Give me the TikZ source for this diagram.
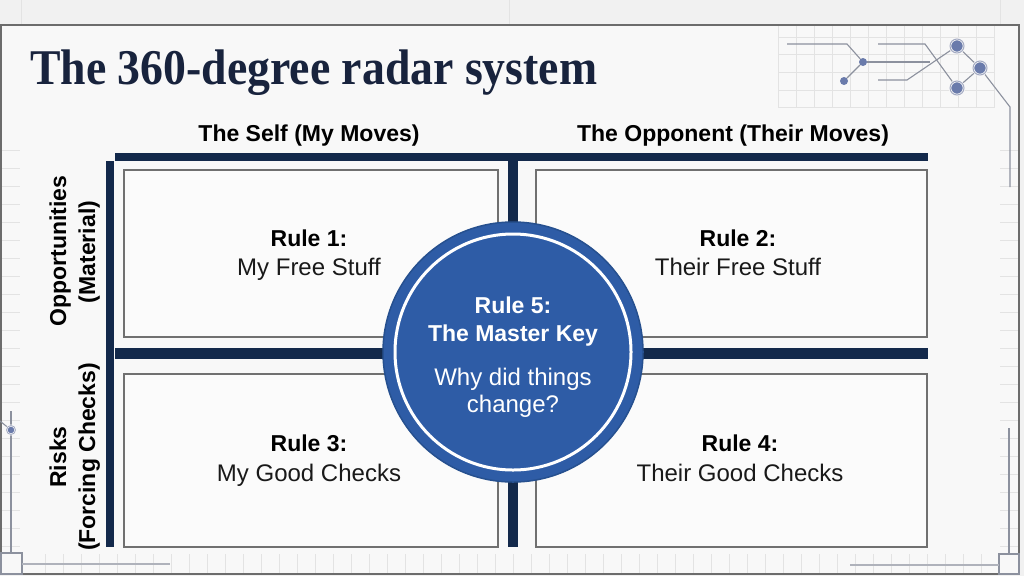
\documentclass[tikz,border=0pt]{standalone}
\usepackage{fontspec}
\setmainfont{Liberation Sans}
\newfontfamily\titlefont{Liberation Serif}
\definecolor{navy}{HTML}{13294B}
\definecolor{titlecol}{HTML}{18233D}
\definecolor{bluefill}{HTML}{2E5CA6}
\definecolor{bluerim}{HTML}{26508F}
\definecolor{bgout}{HTML}{F1F1F1}
\definecolor{bgin}{HTML}{F8F8F8}
\definecolor{cellfill}{HTML}{FBFBFB}
\definecolor{cellline}{HTML}{707070}
\definecolor{faint}{HTML}{E3E3E3}
\definecolor{wire}{HTML}{8C919E}
\definecolor{dotcol}{HTML}{6A7BAB}
\definecolor{ringcol}{HTML}{A3AAC2}
\tikzset{
  bar/.style={fill=navy, draw=none},
  cellbox/.style={fill=cellfill, draw=cellline, line width=1.2pt},
  hdr/.style={font=\fontsize{23}{28}\selectfont\bfseries, text=black, inner sep=0pt},
  rulehd/.style={font=\fontsize{23}{28}\selectfont\bfseries, text=black, inner sep=0pt, anchor=base},
  ruletx/.style={font=\fontsize{24}{28}\selectfont, text=black!90, inner sep=0pt, anchor=base},
  sidelab/.style={font=\fontsize{23}{28}\selectfont\bfseries, text=black, inner sep=0pt, anchor=base, rotate=90},
  ctitle/.style={font=\fontsize{23}{28}\selectfont\bfseries, text=white, inner sep=0pt, anchor=base},
  ctext/.style={font=\fontsize{24}{28}\selectfont, text=white, inner sep=0pt, anchor=base},
  gridln/.style={draw=faint, line width=0.8pt},
  wireln/.style={draw=wire, line width=1.1pt},
  dotnode/.style={circle, fill=dotcol, draw=none, minimum size=8pt, inner sep=0pt},
  ringnode/.style={circle, fill=dotcol, draw=bgin, line width=2.5pt, minimum size=14pt, inner sep=0pt, postaction={draw=ringcol, line width=1pt}},
  smallring/.style={circle, fill=dotcol, draw=bgin, line width=2pt, minimum size=9pt, inner sep=0pt, postaction={draw=ringcol, line width=0.8pt}},
}
\begin{document}
\begin{tikzpicture}[x=1pt,y=-1pt]
\useasboundingbox (0,0) rectangle (1024,576);
% background
\fill[bgout] (0,0) rectangle (1024,576);
\foreach \x in {21,509,1000} \draw[gridln] (\x,0) -- (\x,25);
\fill[bgin] (1,25) rectangle (1019,574);
% margin ticks
\foreach \y in {150,168,...,550} {\draw[gridln] (1,\y) -- (20,\y); \draw[gridln] (1000,\y) -- (1019,\y);}
\foreach \x in {45,63,...,1000} \draw[gridln] (\x,554) -- (\x,573);
% top-right grid
\foreach \x in {778,796,...,995} \draw[gridln] (\x,25) -- (\x,107);
\foreach \y in {37,54,72,90,107} \draw[gridln] (778,\y) -- (995,\y);
% panel border
\draw[draw=gray!85!black, line width=1.3pt] (1,25) rectangle (1019,574);
% corner squares & circuit lines
\draw[wireln] (1,553) rectangle (22,574);
\draw[wireln] (999,554) rectangle (1019,574);
\coordinate (bl1) at (22,564); \coordinate (bl2) at (170,564);
\draw[wireln, draw=wire!70] (bl1) -- (bl2);
\coordinate (br1) at (999,565); \coordinate (br2) at (850,565);
\draw[wireln, draw=wire!70] (br1) -- (br2);
\coordinate (lv1) at (11,411); \coordinate (lv2) at (11,553);
\draw[wireln] (lv1) -- (lv2);
\coordinate (lnw) at (0,421);
\draw[wireln] (lnw) -- (11,430);
\node[smallring] (ln) at (11,430) {};
\coordinate (rv1) at (1009,428); \coordinate (rv2) at (1009,554);
\draw[wireln] (rv1) -- (rv2);
% top-right circuit
\node[dotnode] (nA) at (844,81) {};
\node[dotnode] (nB) at (863,62) {};
\node[ringnode] (nC) at (957,46) {};
\node[ringnode] (nE) at (980,68) {};
\node[ringnode] (nD) at (957,88) {};
\coordinate (w1) at (787,44); \coordinate (w2) at (847,44);
\coordinate (w3) at (930,62);
\coordinate (w4) at (878,44); \coordinate (w5) at (925,44);
\coordinate (w6) at (878,80); \coordinate (w7) at (907,80);
\coordinate (w8) at (1010,107); \coordinate (w9) at (1010,187);
\draw[wireln] (nA) -- (nB);
\draw[wireln] (w1) -- (w2) -- (nB);
\draw[wireln] (nB) -- (w3);
\draw[wireln] (w4) -- (w5) -- (nD);
\draw[wireln] (w6) -- (w7) -- (nC);
\draw[wireln] (nC) -- (nE) -- (nD);
\draw[wireln] (nE) -- (w8) -- (w9);
% title
\node[anchor=base west, inner sep=0pt, text=titlecol] (title) at (30,84)
  {\scalebox{0.915}[1]{\titlefont\bfseries\fontsize{50}{56}\selectfont The 360-degree radar system}};
% headers
\node[hdr, anchor=base] (hself) at (309,141) {The Self (My Moves)};
\node[hdr, anchor=base] (hopp) at (733,141) {The Opponent (Their Moves)};
% bars
\fill[bar] (115,153) rectangle (928,161);
\fill[bar] (106,161) rectangle (114,547);
\fill[bar] (115,348) rectangle (928,359);
\fill[bar] (508,153) rectangle (518,547);
% cells
\draw[cellbox] (124,170) rectangle (498,337);
\draw[cellbox] (536,170) rectangle (927,337);
\draw[cellbox] (124,374) rectangle (498,547);
\draw[cellbox] (536,374) rectangle (927,547);
% side labels
\node[sidelab] (opp1) at (66,251) {Opportunities};
\node[sidelab] (opp2) at (95,252) {(Material)};
\node[sidelab] (risk1) at (66,457) {Risks};
\node[sidelab] (risk2) at (95,457) {(Forcing Checks)};
% cell texts
\node[rulehd] (r1a) at (309,246) {Rule 1:};
\node[ruletx] (r1b) at (309,275) {My Free Stuff};
\node[rulehd] (r2a) at (738,246) {Rule 2:};
\node[ruletx] (r2b) at (738,275) {Their Free Stuff};
\node[rulehd] (r3a) at (309,451) {Rule 3:};
\node[ruletx] (r3b) at (309,481) {My Good Checks};
\node[rulehd] (r4a) at (740,451) {Rule 4:};
\node[ruletx] (r4b) at (740,481) {Their Good Checks};
% centre circle
\node[circle, fill=bluefill, draw=bluerim, line width=1.5pt, minimum size=260pt, inner sep=0pt] (hub) at (513,352) {};
\draw[white, line width=3pt] (hub.center) circle[radius=118];
\node[ctitle] (c1) at (513,313) {Rule 5:};
\node[ctitle] (c2) at (513,341) {The Master Key};
\node[ctext] (c3) at (513,385) {Why did things};
\node[ctext] (c4) at (513,412) {change?};
\end{tikzpicture}
\end{document}
